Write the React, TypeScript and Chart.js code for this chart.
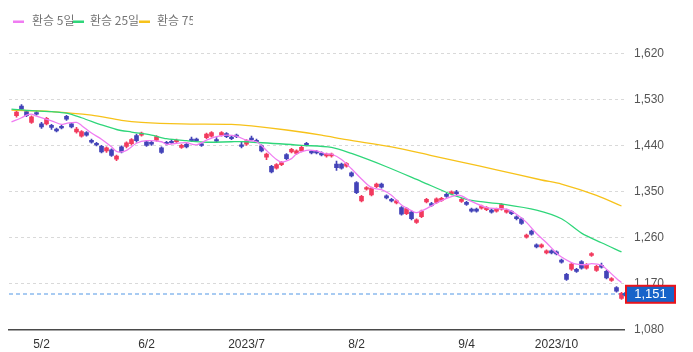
import React, { useEffect, useRef } from "react";
import { Chart, registerables } from "chart.js";

Chart.register(...registerables);

const dates = ["4/21","4/24","4/25","4/26","4/27","4/28","5/2","5/3","5/4","5/8","5/9","5/10","5/11","5/12","5/15","5/16","5/17","5/18","5/19","5/22","5/23","5/24","5/25","5/26","5/30","5/31","6/1","6/2","6/5","6/7","6/8","6/9","6/12","6/13","6/14","6/15","6/16","6/19","6/20","6/21","6/22","6/23","6/26","6/27","6/28","6/29","6/30","7/3","7/4","7/5","7/6","7/7","7/10","7/11","7/12","7/13","7/14","7/17","7/18","7/19","7/20","7/21","7/24","7/25","7/26","7/27","7/28","7/31","8/1","8/2","8/3","8/4","8/7","8/8","8/9","8/10","8/11","8/14","8/16","8/17","8/18","8/21","8/22","8/23","8/24","8/25","8/28","8/29","8/30","8/31","9/1","9/4","9/5","9/6","9/7","9/8","9/11","9/12","9/13","9/14","9/15","9/18","9/19","9/20","9/21","9/22","9/25","9/26","9/27","10/4","10/5","10/6","10/10","10/11","10/12","10/13","10/16","10/17","10/18","10/19","10/20","10/23","10/24"];

const opens = [null,1499,1518,1507,1486,1505,1483,1483,1480,1473,1478,1498,1483,1467,1459,1466,1451,1445,1439,1430,1432,1414,1438,1439,1444,1460,1461,1448,1447,1451,1436,1447,1449,1448,1437,1443,1453,1453,1444,1456,1459,1452,1461,1464,1457,1461,1442,1443,1455,1451,1440,1418,1400,1396,1403,1423,1428,1425,1430,1445,1429,1429,1426,1420,1420,1404,1404,1400,1387,1368,1332,1355,1344,1360,1365,1342,1335,1328,1319,1307,1310,1290,1301,1330,1327,1329,1333,1345,1346,1350,1331,1329,1316,1316,1318,1315,1314,1312,1316,1310,1311,1301,1297,1261,1273,1246,1242,1230,1234,1232,1216,1188,1198,1198,1213,1200,1225,1196,1206,1194,1176,1162,1141];
const closes = [null,1506,1512,1499,1497,1502,1477,1494,1476,1469,1475,1492,1477,1473,1468,1461,1447,1442,1428,1436,1421,1420,1428,1446,1452,1450,1465,1441,1443,1458,1427,1444,1446,1451,1441,1438,1450,1450,1441,1463,1466,1449,1466,1458,1454,1458,1439,1450,1452,1448,1430,1424,1389,1403,1407,1415,1433,1430,1437,1442,1426,1426,1422,1424,1424,1397,1396,1405,1381,1348,1341,1358,1357,1365,1359,1338,1332,1332,1306,1317,1297,1295,1312,1335,1323,1336,1337,1341,1350,1346,1335,1325,1312,1312,1322,1319,1310,1316,1325,1314,1307,1297,1288,1265,1267,1242,1246,1234,1230,1228,1212,1178,1208,1194,1200,1207,1229,1204,1202,1181,1180,1155,1151];
const highs = [null,1509,1521,1509,1499,1508,1486,1496,1482,1475,1480,1500,1485,1476,1470,1468,1453,1447,1441,1438,1434,1422,1440,1448,1454,1463,1467,1450,1449,1460,1438,1449,1452,1453,1443,1445,1457,1455,1446,1465,1468,1456,1468,1466,1459,1463,1448,1452,1459,1453,1442,1426,1402,1405,1409,1425,1435,1432,1439,1447,1431,1431,1428,1426,1426,1410,1406,1407,1389,1370,1343,1360,1359,1367,1367,1344,1337,1334,1321,1319,1312,1297,1314,1337,1329,1338,1339,1347,1352,1353,1337,1331,1318,1318,1324,1321,1316,1318,1327,1316,1313,1303,1299,1267,1275,1248,1248,1236,1236,1234,1218,1190,1210,1200,1215,1209,1231,1206,1210,1196,1182,1164,1153];
const lows = [null,1496,1510,1497,1484,1500,1474,1481,1472,1467,1473,1490,1475,1465,1457,1459,1445,1440,1426,1427,1419,1411,1426,1436,1442,1447,1459,1439,1441,1449,1425,1442,1444,1446,1435,1436,1448,1448,1439,1454,1457,1446,1459,1456,1452,1456,1436,1441,1450,1446,1428,1413,1387,1394,1401,1413,1426,1423,1428,1440,1424,1424,1420,1418,1418,1392,1394,1398,1379,1346,1330,1353,1342,1358,1357,1336,1330,1326,1304,1305,1295,1288,1299,1328,1321,1327,1331,1339,1344,1344,1329,1323,1310,1310,1316,1313,1308,1310,1314,1308,1305,1295,1286,1259,1265,1240,1240,1228,1228,1226,1210,1176,1196,1192,1198,1198,1223,1194,1200,1179,1174,1153,1139];

const ma5At = [0,2,3,4,5,8,10,11,13,14,16,18,20,21,22,23,25,27,30,31,33,35,37,39,41,43,45,47,49,51,53,54,56,57,59,61,63,64,66,68,70,72,74,76,78,80,81,83,85,87,89,90,92,95,97,99,101,103,105,107,109,110,112,113,115,116,118,119,121,122];
const ma5 = [1487,1495,1500,1502,1498,1489,1482,1484,1486,1480,1465,1453,1438,1429,1428,1431,1445,1450,1448,1443,1445,1446,1442,1451,1458,1461,1459,1451,1448,1431,1413,1408,1415,1424,1431,1430,1424,1424,1413,1395,1375,1358,1354,1343,1324,1313,1309,1317,1328,1337,1343,1342,1331,1319,1317,1316,1306,1290,1268,1250,1230,1222,1211,1208,1207,1209,1206,1198,1180,1172];
const ma25At = [0,4,8,11,14,18,21,24,28,31,35,39,44,47,58,64,68,75,82,88,92,98,105,110,114,118,122];
const ma25 = [1512,1509,1507,1504,1495,1481,1472,1467,1461,1454,1450,1447,1448,1448,1441,1437,1425,1399,1370,1345,1333,1326,1314,1297,1269,1250,1232];
const ma75At = [0,8,16,22,26,34,44,48,55,62,67,76,84,90,97,106,110,117,122];
const ma75 = [1510,1507,1500,1490,1486,1483,1482,1479,1471,1461,1452,1438,1421,1408,1393,1373,1365,1343,1322];

const yTicks = [1080, 1170, 1260, 1350, 1440, 1530, 1620];
const xTickDates = ["5/2", "6/2", "7/3", "8/2", "9/4", "10/4"];
const xTickTexts = ["5/2", "6/2", "2023/7", "8/2", "9/4", "2023/10"];
const legendNames = ["환승 5일", "환승 25일", "환승 75일"];

const UP = "#f23a5e";
const DOWN = "#4343b8";
const C5 = "#f07cf2";
const C25 = "#2fd67a";
const C75 = "#f7c21a";

const fmt = (v: number) => v.toLocaleString("en-US");

const lastPricePlugin = {
  id: "lastPrice",
  beforeDatasetsDraw(chart: any) {
    const { ctx, chartArea, scales } = chart;
    const last = closes[closes.length - 1] as number;
    const y = Math.round(scales.y.getPixelForValue(last)) + 1;
    ctx.save();
    ctx.strokeStyle = "rgba(90,155,230,0.7)";
    ctx.lineWidth = 1.5;
    ctx.setLineDash([4, 3]);
    ctx.beginPath();
    ctx.moveTo(chartArea.left, y);
    ctx.lineTo(chartArea.right, y);
    ctx.stroke();
    ctx.restore();
  },
  afterDraw(chart: any) {
    const { ctx, chartArea, scales } = chart;
    const last = closes[closes.length - 1] as number;
    const y = scales.y.getPixelForValue(last) + 1;
    const x0 = chartArea.right + 2;
    const w = 49;
    const h = 17;
    ctx.save();
    ctx.fillStyle = "#1763c9";
    ctx.beginPath();
    ctx.moveTo(x0 - 4, y);
    ctx.lineTo(x0 + 1, y - 4);
    ctx.lineTo(x0 + 1, y + 4);
    ctx.closePath();
    ctx.fill();
    ctx.fillRect(x0, y - h / 2, w, h);
    ctx.strokeStyle = "#e8141c";
    ctx.lineWidth = 2;
    ctx.strokeRect(x0, y - h / 2, w, h);
    ctx.fillStyle = "#ffffff";
    ctx.font = '13px "Liberation Sans", Arial, sans-serif';
    ctx.textAlign = "center";
    ctx.textBaseline = "middle";
    ctx.fillText(fmt(last), x0 + w / 2, y + 0.5);
    ctx.restore();
  },
};

const legendPlugin = {
  id: "customLegend",
  afterDraw(chart: any) {
    const ctx = chart.ctx;
    const colors = [C5, C25, C75];
    const markX = [13, 73, 139];
    const textX = [32, 90, 157];
    ctx.save();
    ctx.beginPath();
    ctx.rect(0, 0, 193, 40);
    ctx.clip();
    ctx.font = '12px "Noto Sans CJK KR", sans-serif';
    ctx.textBaseline = "middle";
    ctx.textAlign = "left";
    legendNames.forEach((name, k) => {
      ctx.fillStyle = "#747474";
      ctx.fillText(name, textX[k], 20);
      ctx.fillStyle = colors[k];
      ctx.fillRect(markX[k], 20.5, 11, 2.5);
    });
    ctx.restore();
  },
};

function maPoints(at: number[], vals: number[]) {
  return at.map((i, k) => ({ x: dates[i], y: vals[k] }));
}

export default function App() {
  const ref = useRef<HTMLCanvasElement>(null);
  useEffect(() => {
    const bodies = opens.map((o, i) =>
      o == null ? null : [Math.min(o, closes[i] as number), Math.max(o, closes[i] as number)]
    );
    const wicks = opens.map((o, i) => (o == null ? null : [lows[i] as number, highs[i] as number]));
    const colors = opens.map((o, i) => (o != null && (closes[i] as number) >= o ? UP : DOWN));
    const lineDs = (label: string, data: any, color: string) => ({
      type: "line" as const,
      label,
      data,
      borderColor: color,
      backgroundColor: color,
      borderWidth: 1.3,
      pointRadius: 0,
      tension: 0.3,
      spanGaps: true,
      order: 0,
    });
    const chart = new Chart(ref.current as HTMLCanvasElement, {
      type: "bar",
      data: {
        labels: dates,
        datasets: [
          lineDs(legendNames[0], maPoints(ma5At, ma5), C5),
          lineDs(legendNames[1], maPoints(ma25At, ma25), C25),
          lineDs(legendNames[2], maPoints(ma75At, ma75), C75),
          {
            type: "bar",
            label: "body",
            data: bodies as any,
            backgroundColor: colors,
            barThickness: 4,
            grouped: false,
            order: 1,
          },
          {
            type: "bar",
            label: "wick",
            data: wicks as any,
            backgroundColor: colors,
            barThickness: 1,
            grouped: false,
            order: 2,
          },
        ] as any,
      },
      options: {
        responsive: false,
        animation: false,
        devicePixelRatio: 1,
        layout: { padding: { left: 9, top: 30, right: 0, bottom: 0 } },
        plugins: { legend: { display: false }, tooltip: { enabled: false } },
        scales: {
          x: {
            type: "category",
            offset: true,
            grid: { display: false, drawTicks: false },
            border: { display: true, color: "#4a4a4a", width: 1.5 },
            afterFit: (s: any) => {
              s.height = 22.5;
            },
            ticks: {
              autoSkip: false,
              maxRotation: 0,
              minRotation: 0,
              padding: 8,
              color: "#333333",
              font: { family: '"Liberation Sans", Arial, sans-serif', size: 12 },
              callback: (_v: any, i: number) => {
                const k = xTickDates.indexOf(dates[i]);
                return k >= 0 ? xTickTexts[k] : null;
              },
            },
          },
          y: {
            position: "right",
            min: 1080,
            max: 1667,
            afterBuildTicks: (s: any) => {
              s.ticks = yTicks.map((v) => ({ value: v }));
            },
            afterFit: (s: any) => {
              s.width = 69;
            },
            grid: {
              drawTicks: false,
              lineWidth: 1,
              color: (c: any) => (c.tick && c.tick.value === 1080 ? "rgba(0,0,0,0)" : "#d9d9d9"),
            },
            border: { display: false, dash: [3, 3] },
            ticks: {
              padding: 10,
              color: "#555555",
              font: { family: '"Liberation Sans", Arial, sans-serif', size: 12 },
              callback: (v: any) => fmt(Number(v)),
            },
          },
        },
      } as any,
      plugins: [lastPricePlugin, legendPlugin],
    });
    return () => chart.destroy();
  }, []);
  return (
    <div style={{ position: "absolute", left: 0, top: 0, width: 693, height: 352 }}>
      <canvas ref={ref} width={693} height={352} style={{ display: "block" }} />
    </div>
  );
}
